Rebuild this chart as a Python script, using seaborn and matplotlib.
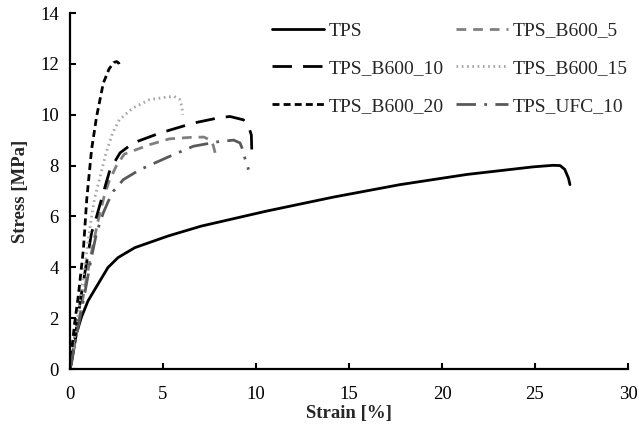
import matplotlib
matplotlib.use("Agg")
import matplotlib.pyplot as plt
import seaborn as sns
import pandas as pd

# ---- data ----
tps_x = [0, 0.07, 0.34, 0.61, 0.97, 1.5, 2.04, 2.58, 3.48, 5.27, 7.06, 10.57, 14.16, 17.74,
         21.33, 24.91, 25.97, 26.35, 26.6, 26.8, 26.88]
tps_y = [0, 0.2, 1.37, 2.03, 2.68, 3.33, 3.99, 4.38, 4.77, 5.23, 5.62, 6.21, 6.76, 7.25,
         7.65, 7.95, 8.01, 8.0, 7.85, 7.5, 7.25]

b5_x = [0, 0.35, 0.7, 1.1, 1.5, 1.84, 2.11, 2.5, 2.92, 4.27, 5.34, 6.5, 7.2, 7.55, 7.7, 7.8]
b5_y = [0, 1.4, 2.8, 4.4, 5.8, 6.8, 7.4, 8.0, 8.45, 8.82, 9.05, 9.11, 9.12, 9.0, 8.8, 8.5]

b10_x = [0, 0.3, 0.6, 0.98, 1.16, 1.43, 1.79, 2.15, 2.69, 3.4, 4.84, 6.63, 8.0, 8.6, 9.32, 9.6, 9.75, 9.78]
b10_y = [0, 1.4, 2.9, 4.58, 5.36, 6.0, 6.93, 7.84, 8.5, 8.89, 9.28, 9.67, 9.88, 9.93, 9.8, 9.55, 9.2, 8.43]

b15_x = [0, 0.3, 0.6, 0.9, 1.1, 1.31, 1.58, 1.94, 2.29, 2.65, 3.37, 4.27, 5.16, 5.6, 5.9, 6.02, 6.06]
b15_y = [0, 1.5, 3.0, 4.6, 5.7, 6.67, 7.45, 8.5, 9.28, 9.8, 10.26, 10.59, 10.69, 10.72, 10.6, 10.3, 10.0]

b20_x = [0, 0.1, 0.25, 0.45, 0.72, 0.9, 1.16, 1.43, 1.79, 2.1, 2.35, 2.51, 2.62, 2.69]
b20_y = [0, 0.8, 1.8, 2.9, 4.7, 6.67, 8.63, 9.93, 11.24, 11.8, 12.05, 12.09, 12.03, 11.9]

ufc_x = [0, 0.4, 0.8, 1.1, 1.43, 1.79, 2.06, 2.33, 2.87, 3.76, 5.38, 6.63, 8.06, 8.8, 9.14, 9.3, 9.4, 9.6]
ufc_y = [0, 1.5, 3.0, 4.2, 5.36, 6.14, 6.6, 6.99, 7.45, 7.84, 8.37, 8.76, 8.95, 9.0, 8.89, 8.6, 8.3, 7.84]

names = ["TPS", "TPS_B600_5", "TPS_B600_10", "TPS_B600_15", "TPS_B600_20", "TPS_UFC_10"]
xs = [tps_x, b5_x, b10_x, b15_x, b20_x, ufc_x]
ys = [tps_y, b5_y, b10_y, b15_y, b20_y, ufc_y]

x_ticks = [0, 5, 10, 15, 20, 25, 30]
y_ticks = [0, 2, 4, 6, 8, 10, 12, 14]

# ---- style ----
sns.set_style("ticks")
plt.rcParams["font.family"] = ["Liberation Serif", "DejaVu Serif"]
plt.rcParams["lines.scale_dashes"] = False

styles = {
    "TPS": dict(color="black", lw=2.0, dashes=None),
    "TPS_B600_5": dict(color="#808080", lw=2.0, dashes=(7, 5)),
    "TPS_B600_10": dict(color="black", lw=2.0, dashes=(14, 8)),
    "TPS_B600_15": dict(color="#a6a6a6", lw=2.0, dashes=(1.2, 2.6)),
    "TPS_B600_20": dict(color="black", lw=2.0, dashes=(5, 3)),
    "TPS_UFC_10": dict(color="#595959", lw=2.0, dashes=(14, 6, 2, 6)),
}

fig = plt.figure(figsize=(6.39, 4.33), dpi=100)
ax = fig.add_axes([70 / 639, 1 - 369 / 433, 558 / 639, 356 / 433])

handles = {}
for name, x, y in zip(names, xs, ys):
    df = pd.DataFrame({"Strain": x, "Stress": y})
    st = styles[name]
    n_before = len(ax.lines)
    sns.lineplot(data=df, x="Strain", y="Stress", ax=ax, color=st["color"],
                 lw=st["lw"], sort=False, estimator=None)
    line = ax.lines[n_before]
    if st["dashes"] is not None:
        line.set_dashes(st["dashes"])
    line.set_dash_capstyle("butt")
    handles[name] = line

ax.set_xlim(0, 30)
ax.set_ylim(0, 14)
ax.set_xticks(x_ticks)
ax.set_yticks(y_ticks)
ax.tick_params(direction="in", length=4, width=1.5, labelsize=13.5, colors="black")
ax.tick_params(axis="x", pad=12)
ax.tick_params(axis="y", pad=8)
for s in ["top", "right"]:
    ax.spines[s].set_visible(False)
for s in ["left", "bottom"]:
    ax.spines[s].set_linewidth(1.6)
    ax.spines[s].set_color("black")

ax.set_xlabel("Strain [%]", fontsize=13.5, fontweight="bold", labelpad=2)
ax.set_ylabel("Stress [MPa]", fontsize=13.5, fontweight="bold", labelpad=8)

order = ["TPS", "TPS_B600_10", "TPS_B600_20", "TPS_B600_5", "TPS_B600_15", "TPS_UFC_10"]
leg = fig.legend([handles[n] for n in order], order, ncol=2, frameon=False,
                 loc="upper left", bbox_to_anchor=(272 / 639, 1 - 22 / 433),
                 borderaxespad=0, borderpad=0, fontsize=14, handlelength=2.68,
                 handletextpad=0.25, columnspacing=0.6, labelspacing=1.03)

fig.savefig("out.png", dpi=100)
